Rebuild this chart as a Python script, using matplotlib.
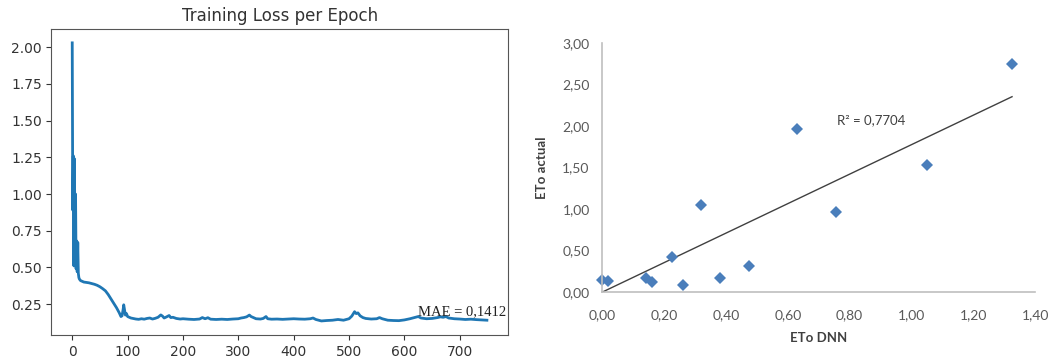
import matplotlib
matplotlib.use("Agg")
import matplotlib.pyplot as plt
import numpy as np

# training loss (epoch, loss)
epochs = [0, 1, 2, 3, 4, 5, 6, 7, 8, 9, 10, 11, 12, 13, 15, 18, 21, 25, 30, 35,
          40, 45, 50, 55, 60, 65, 70, 75, 80, 85, 88, 90, 92, 93, 94, 96, 98, 100,
          103, 106, 110, 115, 120, 125, 130, 135, 140, 145, 150, 155, 160, 163,
          166, 170, 175, 178, 182, 188, 195, 200, 210, 220, 230, 235, 240, 245,
          250, 260, 270, 280, 290, 300, 305, 310, 315, 320, 323, 327, 332, 340,
          345, 350, 353, 360, 370, 380, 390, 400, 410, 420, 430, 435, 440, 450,
          460, 470, 480, 490, 500, 505, 510, 513, 516, 520, 525, 530, 540, 550,
          555, 560, 570, 580, 590, 600, 610, 620, 625, 630, 640, 650, 660, 665,
          670, 675, 680, 690, 700, 710, 720, 730, 740, 749]
loss = [2.03, 0.89, 1.26, 0.51, 1.24, 0.55, 1.00, 0.49, 0.68, 0.47, 0.67, 0.46, 0.43, 0.42, 0.41, 0.405, 0.40, 0.398, 0.395, 0.39,
        0.385, 0.378, 0.368, 0.355, 0.34, 0.315, 0.285, 0.255, 0.225, 0.19, 0.165, 0.17, 0.215, 0.245, 0.22, 0.175, 0.185, 0.165,
        0.16, 0.155, 0.152, 0.148, 0.146, 0.15, 0.147, 0.152, 0.155, 0.148, 0.153, 0.16, 0.176, 0.168,
        0.155, 0.162, 0.172, 0.158, 0.16, 0.152, 0.148, 0.15, 0.147, 0.145, 0.148, 0.158, 0.15, 0.157,
        0.147, 0.145, 0.147, 0.145, 0.148, 0.15, 0.155, 0.158, 0.163, 0.175, 0.165, 0.158, 0.15, 0.148,
        0.152, 0.165, 0.15, 0.147, 0.148, 0.146, 0.148, 0.15, 0.148, 0.147, 0.15, 0.155, 0.145, 0.135,
        0.138, 0.14, 0.145, 0.14, 0.15, 0.168, 0.198, 0.185, 0.19, 0.17, 0.158, 0.152, 0.148, 0.15,
        0.158, 0.15, 0.14, 0.138, 0.137, 0.142, 0.15, 0.16, 0.165, 0.155, 0.15, 0.152, 0.158, 0.163,
        0.16, 0.165, 0.155, 0.15, 0.148, 0.145, 0.147, 0.144, 0.142, 0.14]

# scatter: ETo DNN vs ETo actual
eto_dnn = [0.00, 0.02, 0.14, 0.16, 0.225, 0.26, 0.32, 0.38, 0.475, 0.63, 0.755, 1.05, 1.325]
eto_actual = [0.15, 0.14, 0.17, 0.12, 0.42, 0.09, 1.05, 0.17, 0.32, 1.96, 0.96, 1.53, 2.75]

fig = plt.figure(figsize=(10.51, 3.62), dpi=100)

# left panel
ax1 = fig.add_axes([0.049, 0.075, 0.434, 0.845])
ax1.plot(epochs, loss, color="#1f77b4", lw=2)
ax1.set_title("Training Loss per Epoch", fontsize=12, color="#333333", pad=6)
ax1.set_yticks([0.25, 0.50, 0.75, 1.00, 1.25, 1.50, 1.75, 2.00])
ax1.set_yticklabels(["0.25", "0.50", "0.75", "1.00", "1.25", "1.50", "1.75", "2.00"])
ax1.set_xticks(range(0, 800, 100))
ax1.tick_params(labelsize=10, colors="#333333")
for sp in ax1.spines.values():
    sp.set_color("#555555")
ax1.text(625, 0.2, "MAE = 0,1412", family="Liberation Serif", fontsize=10.5,
         color="#222222", va="center")

# right panel
ax2 = fig.add_axes([0.573, 0.193, 0.412, 0.688])
x = np.array(eto_dnn)
y = np.array(eto_actual)
slope = np.sum(x * y) / np.sum(x * x)
xs = np.array([0, x.max()])
ax2.plot(xs, slope * xs, color="#404040", lw=1)
ax2.plot(x, y, "D", color="#4a7ebb", markersize=6.5, markeredgewidth=0, clip_on=False)
ax2.set_xlim(0, 1.40)
ax2.set_ylim(0, 3.0)
ax2.set_xticks(np.arange(0, 1.41, 0.2))
ax2.set_yticks(np.arange(0, 3.01, 0.5))
ax2.set_xticklabels([f"{v:.2f}".replace(".", ",") for v in np.arange(0, 1.41, 0.2)])
ax2.set_yticklabels([f"{v:.2f}".replace(".", ",") for v in np.arange(0, 3.01, 0.5)])
ax2.tick_params(length=0, labelsize=10, colors="#595959")
ax2.tick_params(axis="x", pad=12)
ax2.tick_params(axis="y", pad=9)
for lab in ax2.get_xticklabels() + ax2.get_yticklabels():
    lab.set_family("Lato")
for side in ["top", "right"]:
    ax2.spines[side].set_visible(False)
for side in ["left", "bottom"]:
    ax2.spines[side].set_color("#bfbfbf")
    ax2.spines[side].set_linewidth(1.2)
ax2.set_xlabel("ETo DNN", family="Lato", fontweight="bold", fontsize=9.5, color="#404040", labelpad=8)
ax2.set_ylabel("ETo actual", family="Lato", fontweight="bold", fontsize=9.5, color="#404040", labelpad=10)
ax2.text(0.76, 2.07, "R² = 0,7704", family="Lato", fontsize=9.5, color="#404040", va="center")

fig.savefig("out.png", dpi=100)
